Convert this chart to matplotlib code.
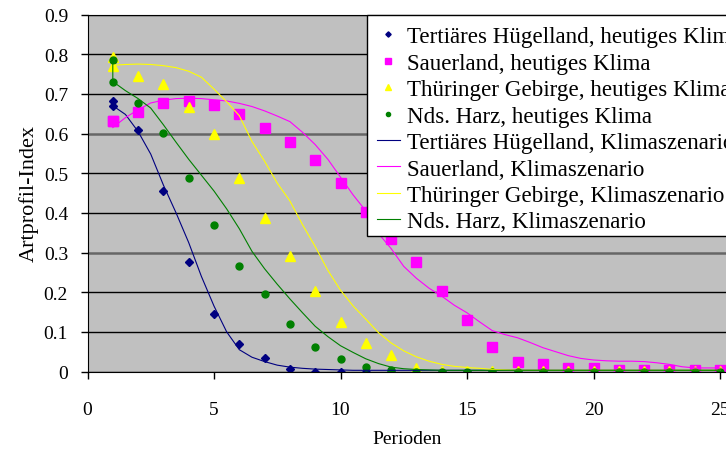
import numpy as np
import matplotlib
matplotlib.use("Agg")
import matplotlib.pyplot as plt
from matplotlib.patches import Rectangle

plt.rcParams['font.family'] = ['Liberation Serif', 'DejaVu Serif']

# observed values (heutiges Klima), period 1 appears twice
x_pts = [1, 1] + list(range(2, 26))
huegel_pts = [0.682, 0.670, 0.608, 0.454, 0.275, 0.144, 0.070, 0.035, 0.006] + [0.0] * 17
sauer_pts = [0.632, 0.632, 0.654, 0.677, 0.683, 0.672, 0.650, 0.614, 0.579, 0.534, 0.476,
             0.402, 0.333, 0.275, 0.204, 0.129, 0.061, 0.025, 0.018, 0.008, 0.008] + [0.003] * 5
thuer_pts = [0.792, 0.769, 0.745, 0.725, 0.668, 0.598, 0.489, 0.387, 0.292, 0.204, 0.125,
             0.073, 0.041, 0.009] + [0.002] * 12
harz_pts = [0.786, 0.731, 0.677, 0.602, 0.488, 0.369, 0.265, 0.195, 0.119, 0.061, 0.031,
            0.012, 0.005] + [0.0] * 13

# scenario curves, read every half period
x_line = [1 + 0.5 * i for i in range(49)]
huegel_line = [0.670, 0.648, 0.605, 0.548, 0.470, 0.400, 0.325, 0.240, 0.165, 0.100,
               0.055, 0.036, 0.025, 0.016, 0.011, 0.008, 0.006, 0.005, 0.004] + [0.003] * 30
sauer_line = [0.615, 0.640, 0.660, 0.677, 0.684, 0.688, 0.689, 0.688, 0.685, 0.682,
              0.676, 0.668, 0.657, 0.644, 0.630, 0.603, 0.572, 0.535, 0.490, 0.445,
              0.405, 0.348, 0.310, 0.265, 0.235, 0.210, 0.190, 0.167, 0.148, 0.125,
              0.103, 0.093, 0.085, 0.073, 0.060, 0.050, 0.040, 0.033, 0.029, 0.027,
              0.026, 0.026, 0.025, 0.022, 0.018, 0.012, 0.009, 0.009, 0.009]
thuer_line = [0.772, 0.774, 0.775, 0.774, 0.771, 0.766, 0.757, 0.742, 0.712, 0.680,
              0.645, 0.580, 0.530, 0.475, 0.430, 0.370, 0.315, 0.255, 0.205, 0.165,
              0.132, 0.098, 0.072, 0.052, 0.037, 0.026, 0.018, 0.013, 0.010, 0.008,
              0.005, 0.004] + [0.003] * 17
x_harz_line = [1] + x_line
harz_line = [0.786, 0.731, 0.708, 0.688, 0.664, 0.622, 0.578, 0.535, 0.495, 0.455, 0.410,
             0.360, 0.303, 0.259, 0.220, 0.183, 0.148, 0.114, 0.088, 0.065, 0.048,
             0.032, 0.020, 0.011, 0.007, 0.005, 0.004] + [0.003] * 23

names = ['Tertiäres Hügelland', 'Sauerland', 'Thüringer Gebirge', 'Nds. Harz']
colors = ['#000080', '#FF00FF', '#FFFF00', '#008000']

fig = plt.figure(figsize=(7.26, 4.52), dpi=100)
ax = fig.add_axes([87.5 / 726, 1 - 372.5 / 452, 1 - 87.5 / 726, (372.5 - 15.5) / 452])
ax.set_facecolor('#C0C0C0')

ax.plot(x_pts, huegel_pts, 'D', color=colors[0], ms=4.5, ls='none', label=names[0] + ', heutiges Klima')
ax.plot(x_pts, sauer_pts, 's', color=colors[1], ms=6.5, ls='none', label=names[1] + ', heutiges Klima')
ax.plot(x_pts, thuer_pts, '^', color=colors[2], ms=6.5, ls='none', label=names[2] + ', heutiges Klima')
ax.plot(x_pts, harz_pts, 'o', color=colors[3], ms=5, ls='none', label=names[3] + ', heutiges Klima')

ax.plot(x_line, huegel_line, color=colors[0], lw=0.8, label=names[0] + ', Klimaszenario')
ax.plot(x_line, sauer_line, color=colors[1], lw=0.8, label=names[1] + ', Klimaszenario')
ax.plot(x_line, thuer_line, color=colors[2], lw=0.8, label=names[2] + ', Klimaszenario')
ax.plot(x_harz_line, harz_line, color=colors[3], lw=0.8, label=names[3] + ', Klimaszenario')

ax.set_xlim(0, (726 - 87.5) / 25.3)
ax.set_ylim(0, 0.9)
ax.set_xticks([0, 5, 10, 15, 20, 25])
ax.set_yticks(np.arange(0, 0.91, 0.1))
ax.set_yticklabels(['0'] + ['%.1f' % v for v in np.arange(0.1, 0.91, 0.1)])
ax.tick_params(direction='out', length=5, width=1, colors='black', labelsize=14)
ax.tick_params(axis='y', pad=9)
ax.tick_params(axis='x', pad=16)

ax.set_axisbelow(True)
ax.yaxis.grid(True, color='black', lw=1)
for i, gl in enumerate(ax.get_ygridlines()):
    if i in (3, 6):
        gl.set_color('#666666')
        gl.set_linewidth(1.8)
for s in ['left', 'bottom', 'top']:
    ax.spines[s].set_color('black')
ax.spines['right'].set_visible(False)

ax.set_xlabel('Perioden', fontsize=14)
ax.set_ylabel('Artprofil-Index', fontsize=16)
ax.xaxis.set_label_coords(0.5, -0.164)
ax.yaxis.set_label_coords(-0.077, 0.5)

# legend box drawn separately so its padding matches the original
leg_x0 = (367 - 87.5) / (726 - 87.5)
leg_y0 = (372.5 - 237) / 357
box = Rectangle((leg_x0, leg_y0), 0.7, 0.998 - leg_y0, transform=ax.transAxes,
                facecolor='white', edgecolor='black', lw=1, clip_on=False, zorder=4.5)
ax.add_patch(box)

leg = ax.legend(loc='upper left', bbox_to_anchor=(leg_x0, 1 - 2 / 357),
                borderaxespad=0, fontsize=16.6, frameon=False,
                labelspacing=0.23, handlelength=1.0,
                handletextpad=0.3, borderpad=0.42, markerscale=0.6)
leg.set_zorder(5)

fig.savefig('out.png', dpi=100)
